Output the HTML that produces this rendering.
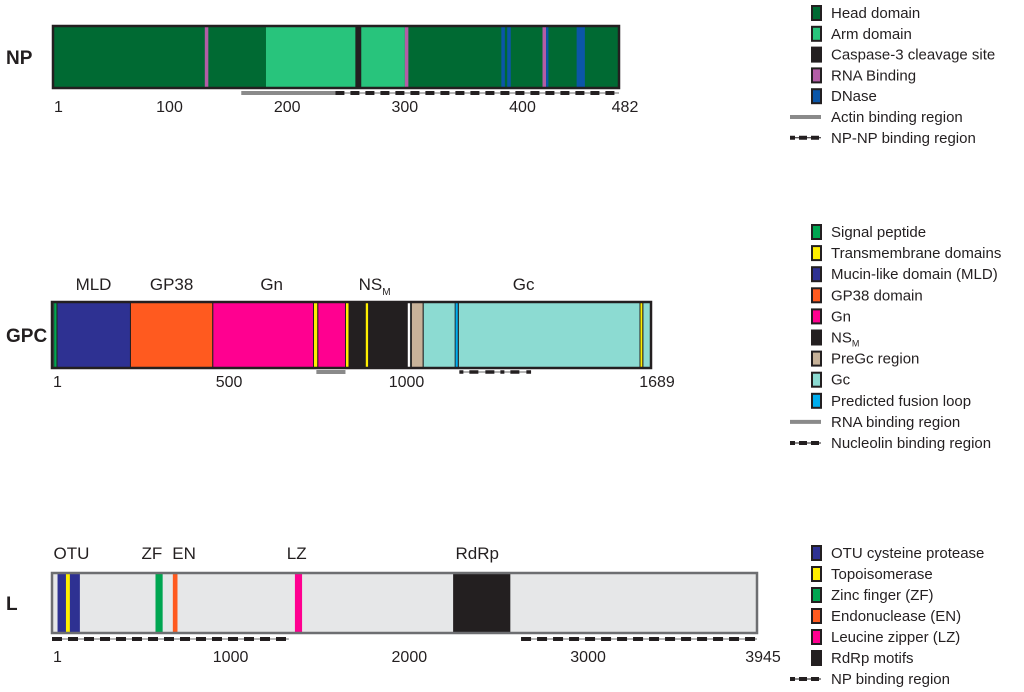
<!DOCTYPE html>
<html><head><meta charset="utf-8"><style>
html,body{margin:0;padding:0;background:#fff;}
svg{display:block;font-family:"Liberation Sans",sans-serif;}
</style></head><body>
<svg id="fig" width="1024" height="692" viewBox="0 0 1024 692" xmlns="http://www.w3.org/2000/svg"></svg>
<script>
// ---------- data ----------
const npLength = 482;
const npSegStart = [1, 182, 258, 263, 130, 300, 382, 387, 417, 420, 446];
const npSegEnd   = [482, 258, 263, 300, 133, 303, 385, 390, 420, 422, 453];
const npSegColor = ['#006a33','#28c47c','#231f20','#28c47c','#b35da6','#b35da6','#0b56a8','#0b56a8','#b35da6','#0b56a8','#0b56a8'];
const npSegName  = ['head-domain','arm-domain-1','caspase-3-site','arm-domain-2','rna-binding-1','rna-binding-2','dnase-1','dnase-2','rna-binding-3','dnase-3','dnase-4'];
const npTicks = [1, 100, 200, 300, 400, 482];
const npGrayStart = [161]; const npGrayEnd = [241];
const npDashStart = [241]; const npDashEnd = [482];

const gpcLength = 1689;
const gpcSegStart = [1, 6, 15, 222, 454, 738, 750, 828, 838, 884, 1002, 1014, 1047, 1137, 1146, 1658, 1666];
const gpcSegEnd   = [1689, 15, 222, 454, 738, 750, 828, 838, 1002, 893, 1011, 1047, 1689, 1146, 1658, 1666, 1689];
const gpcSegColor = ['#8cdbd2','#00a651','#2e3192','#ff5a1f','#ff0090','#ffef00','#ff0090','#ffef00','#231f20','#ffef00','#ffffff','#c7b299','#8cdbd2','#00aeef','#8cdbd2','#ffef00','#8cdbd2'];
const gpcSegName  = ['gc-base','signal-peptide','mld-domain','gp38-domain','gn-domain-1','tm-domain-1','gn-domain-2','tm-domain-2','nsm-domain','tm-domain-3','nsm-gap','pregc-region','gc-domain-1','fusion-loop','gc-domain-2','tm-domain-4','gc-domain-3'];
const gpcTicks = [1, 500, 1000, 1689];
const gpcLabels = ['MLD','GP38','Gn','NS','Gc'];
const gpcLabelPos = [118, 338, 620, 910, 1330];
const gpcGrayStart = [746]; const gpcGrayEnd = [828];
const gpcDashStart = [1149]; const gpcDashEnd = [1351];

const lLength = 3945;
const lSegStart = [1, 32, 79, 580, 677, 1360, 2245];
const lSegEnd   = [3945, 157, 101, 620, 703, 1400, 2565];
const lSegColor = ['#e6e7e8','#2e3192','#ffef00','#00a651','#ff5a1f','#ff0090','#231f20'];
const lSegName  = ['l-base','otu-domain','topoisomerase','zinc-finger','endonuclease','leucine-zipper','rdrp-motifs'];
const lTicks = [1, 1000, 2000, 3000, 3945];
const lLabels = ['OTU','ZF','EN','LZ','RdRp'];
const lLabelPos = [110, 560, 740, 1370, 2380];
const lDashStart = [1, 2625]; const lDashEnd = [1326, 3945];

// ---------- helpers ----------
const NS = 'http://www.w3.org/2000/svg';
const svg = document.getElementById('fig');
function mk(tag, attrs, parent){ const e=document.createElementNS(NS,tag); for(const k in attrs) e.setAttribute(k,attrs[k]); (parent||svg).appendChild(e); return e; }
function txt(x,y,s,size,anchor,weight,parent){ const t=mk('text',{x:x,y:y,'font-size':size,'text-anchor':anchor||'start','font-weight':weight||'normal',fill:'#231f20'},parent); t.textContent=s; return t; }
function makeScale(len,x0,x1){ return a => x0 + (a-1)/(len-1)*(x1-x0); }

function drawProtein(cfg){
  const g = mk('g',{});
  
  
  const sx = makeScale(cfg.len, cfg.x0, cfg.x1);
  const t = txt(6, (cfg.y0+cfg.y1)/2+7, cfg.title, 19, 'start', 'bold', g);
  
  
  for(let i=0;i<cfg.s.length;i++){
    const xa = sx(cfg.s[i]), xb = sx(cfg.e[i]);
    const r = mk('rect',{x:xa,y:cfg.y0,width:Math.max(1,xb-xa),height:cfg.y1-cfg.y0,fill:cfg.c[i]},g);
    
    
  }
  if(cfg.sep){
    for(let i=1;i<cfg.s.length;i++){
      const xa = sx(cfg.s[i]), xb = sx(cfg.e[i]);
      mk('line',{x1:xa,y1:cfg.y0,x2:xa,y2:cfg.y1,stroke:'#231f20','stroke-width':0.9},g);
      mk('line',{x1:xb,y1:cfg.y0,x2:xb,y2:cfg.y1,stroke:'#231f20','stroke-width':0.9},g);
    }
  }
  const o = mk('rect',{x:cfg.x0,y:cfg.y0,width:cfg.x1-cfg.x0,height:cfg.y1-cfg.y0,fill:'none',stroke:cfg.outline,'stroke-width':2.5},g);
  
  
  (cfg.gs||[]).forEach((s,i)=>{
    const l=mk('line',{x1:sx(s),y1:cfg.gy,x2:sx(cfg.ge[i]),y2:cfg.gy,stroke:'#8a8a8a','stroke-width':4},g);
    
    
  });
  (cfg.ds||[]).forEach((s,i)=>{
    const xa=sx(s), xb=sx(cfg.de[i]);
    mk('line',{x1:xa,y1:cfg.dy,x2:xb,y2:cfg.dy,stroke:'#8a8a8a','stroke-width':1.2},g);
    const l=mk('line',{x1:xa,y1:cfg.dy,x2:xb,y2:cfg.dy,stroke:'#231f20','stroke-width':cfg.dw||4,'stroke-dasharray':cfg.dash},g);
    
    
  });
  cfg.ticks.forEach((v,i)=>{
    let x = sx(v); let anc='middle';
    if(i===0){ x = cfg.x0+1; anc='start'; }
    if(i===cfg.ticks.length-1){ x = cfg.x1+6; anc='middle'; }
    const tt=txt(x, cfg.ty, String(v), 16, anc, 'normal', g);
    
    
  });
  (cfg.labels||[]).forEach((s,i)=>{
    const tt=txt(sx(cfg.lp[i]), cfg.ly, s, 17, 'middle', 'normal', g);
    
    
    if(s==='NS'){ const sub=mk('tspan',{'font-size':10,dy:5},tt); sub.textContent='M'; }
  });
}

drawProtein({name:'np',title:'NP',len:npLength,x0:53,x1:619,y0:26,y1:88,s:npSegStart,e:npSegEnd,c:npSegColor,n:npSegName,sep:false,outline:'#231f20',
  gs:npGrayStart,ge:npGrayEnd,gy:93,ds:npDashStart,de:npDashEnd,dy:93,dash:'9 6',ticks:npTicks,ty:112});
drawProtein({name:'gpc',title:'GPC',len:gpcLength,x0:52,x1:651,y0:302,y1:368,s:gpcSegStart,e:gpcSegEnd,c:gpcSegColor,n:gpcSegName,sep:true,outline:'#231f20',
  gs:gpcGrayStart,ge:gpcGrayEnd,gy:372,ds:gpcDashStart,de:gpcDashEnd,dy:372,dw:3.5,dash:'4 6 9 7 9 6',ticks:gpcTicks,ty:387,labels:gpcLabels,lp:gpcLabelPos,ly:290});
drawProtein({name:'l',title:'L',len:lLength,x0:52,x1:757,y0:573,y1:633,s:lSegStart,e:lSegEnd,c:lSegColor,n:lSegName,sep:false,outline:'#6d6e71',
  ds:lDashStart,de:lDashEnd,dy:639,dash:'10 6',ticks:lTicks,ty:662,labels:lLabels,lp:lLabelPos,ly:559});

// ---------- legends ----------
function legend(name, y0, step, boxes, lines){
  const g = mk('g',{});
  
  
  let y = y0;
  boxes.forEach(b=>{
    const r=mk('rect',{x:812,y:y-7,width:9,height:14,fill:b[1],stroke:'#231f20','stroke-width':2},g);
    
    
    const t=txt(831,y+5,b[0],15,'start','normal',g);
    
    
    if(b[0]==='NS'){ const sub=mk('tspan',{'font-size':9,dy:4},t); sub.textContent='M'; }
    y += step;
  });
  lines.forEach(l=>{
    if(l[1]==='gray') mk('line',{x1:790,y1:y,x2:821,y2:y,stroke:'#8a8a8a','stroke-width':4},g);
    else { mk('line',{x1:790,y1:y,x2:821,y2:y,stroke:'#231f20','stroke-width':1},g); mk('line',{x1:790,y1:y,x2:821,y2:y,stroke:'#231f20','stroke-width':4,'stroke-dasharray':'5 4 8 4 8 4'},g); }
    const t=txt(831,y+5,l[0],15,'start','normal',g);
    
    
    y += step;
  });
}
legend('np-legend', 13, 20.8, [['Head domain','#006a33'],['Arm domain','#28c47c'],['Caspase-3 cleavage site','#231f20'],['RNA Binding','#b35da6'],['DNase','#0b56a8']],
  [['Actin binding region','gray'],['NP-NP binding region','dash']]);
legend('gpc-legend', 232, 21.1, [['Signal peptide','#00a651'],['Transmembrane domains','#ffef00'],['Mucin-like domain (MLD)','#2e3192'],['GP38 domain','#ff5a1f'],['Gn','#ff0090'],['NS','#231f20'],['PreGc region','#c7b299'],['Gc','#8cdbd2'],['Predicted fusion loop','#00aeef']],
  [['RNA binding region','gray'],['Nucleolin binding region','dash']]);
legend('l-legend', 553, 21, [['OTU cysteine protease','#2e3192'],['Topoisomerase','#ffef00'],['Zinc finger (ZF)','#00a651'],['Endonuclease (EN)','#ff5a1f'],['Leucine zipper (LZ)','#ff0090'],['RdRp motifs','#231f20']],
  [['NP binding region','dash']]);
</script>
</body></html>
